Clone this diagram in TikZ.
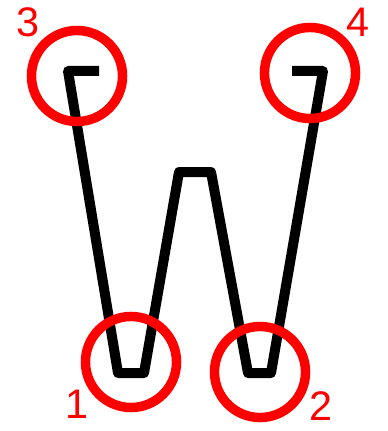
\documentclass[tikz,border=0pt]{standalone}
\usepackage{fontspec}
\setmainfont{Liberation Sans}
\usepackage{tikz}
\usetikzlibrary{positioning, calc}
\definecolor{myred}{RGB}{255,0,0}
\definecolor{mydark}{RGB}{0,0,0}
\tikzset{
  mark circle/.style={circle, draw=myred, line width=7.1pt,
    minimum size=68.3pt, inner sep=0pt},
  num/.style={text=myred, font=\fontsize{31}{31}\selectfont, inner sep=0pt},
  stroke/.style={draw=mydark, line width=7.5pt, line join=round}
}
\begin{document}
\begin{tikzpicture}[x=0.75pt, y=-0.75pt]
    \useasboundingbox (0,0) rectangle (387,431);
    % path of the letter
    \coordinate (s) at (99,71);
    \coordinate (tl) at (68,71);
    \coordinate (b1l) at (118,373);
    \coordinate (b1r) at (144,373);
    \coordinate (ml) at (179,172);
    \coordinate (mr) at (211,172);
    \coordinate (b2l) at (248,373);
    \coordinate (b2r) at (271,373);
    \coordinate (tr) at (323,71);
    \coordinate (e) at (292,71);
    \draw[stroke] (s) -- (tl) -- (b1l) -- (b1r) -- (ml) -- (mr) -- (b2l) -- (b2r) -- (tr) -- (e);
    % marked points
    \node[mark circle] (c1) at (131,362) {};
    \node[mark circle] (c2) at (260,372) {};
    \node[mark circle] (c3) at (77,76) {};
    \node[mark circle] (c4) at (310,73) {};
    \node[num] (n1) at (77,404) {1};
    \node[num] (n2) at (321,406) {2};
    \node[num] (n3) at (28,22) {3};
    \node[num] (n4) at (358,22) {4};
  \end{tikzpicture}
\end{document}
